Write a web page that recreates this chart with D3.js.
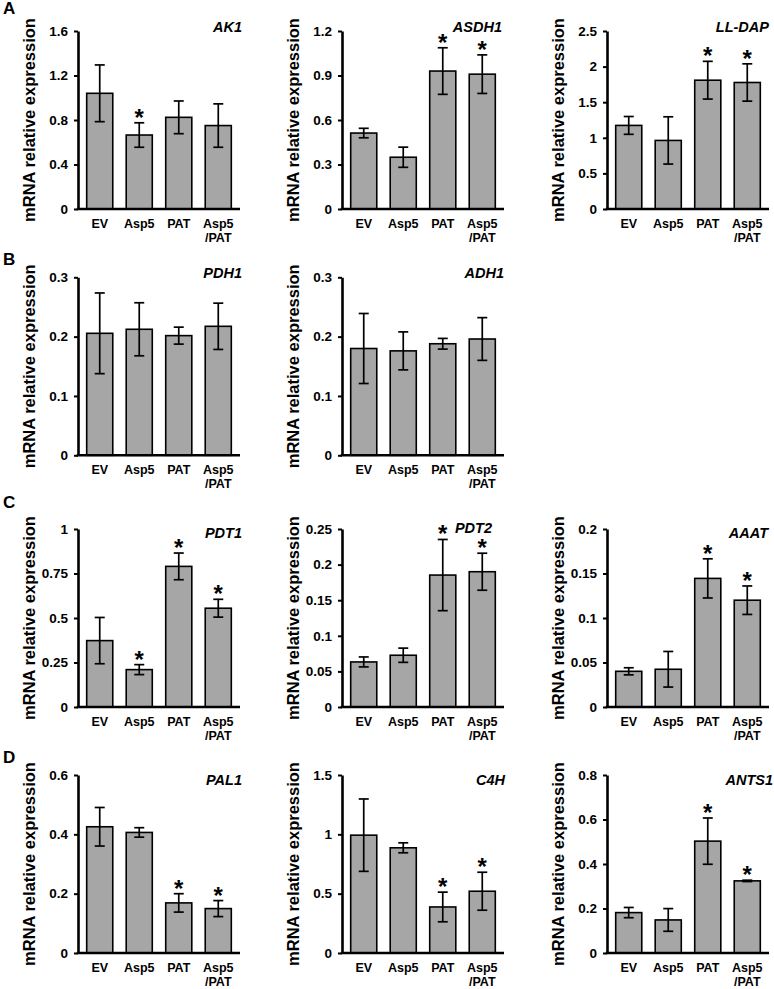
<!DOCTYPE html>
<html>
<head>
<meta charset="utf-8">
<script src="https://cdn.jsdelivr.net/npm/d3@7"></script>
<style>
  html, body { margin: 0; padding: 0; background: #fff; }
  svg { display: block; }
  text { font-family: "Liberation Sans", Arial, sans-serif; font-weight: bold; fill: #000; }
</style>
</head>
<body>
<svg id="chart" width="774" height="989"></svg>
<script>
// ---------------- DATA ----------------
const categories = ["EV", "Asp5", "PAT", "Asp5/PAT"];
const yTitle = "mRNA relative expression";
const panelLetters = ["A", "B", "C", "D"];

const genes = ["AK1", "ASDH1", "LL-DAP", "PDH1", "ADH1", "PDT1", "PDT2", "AAAT", "PAL1", "C4H", "ANTS1"];

const valuesAK1   = [1.04, 0.665, 0.824, 0.75];
const errorsAK1   = [0.255, 0.11, 0.147, 0.195];
const sigAK1      = [0, 1, 0, 0];
const ticksAK1    = ["0", "0.4", "0.8", "1.2", "1.6"];

const valuesASDH1 = [0.512, 0.349, 0.93, 0.909];
const errorsASDH1 = [0.032, 0.068, 0.157, 0.13];
const sigASDH1    = [0, 0, 1, 1];
const ticksASDH1  = ["0", "0.3", "0.6", "0.9", "1.2"];

const valuesLLDAP = [1.174, 0.963, 1.809, 1.777];
const errorsLLDAP = [0.125, 0.332, 0.265, 0.262];
const sigLLDAP    = [0, 0, 1, 1];
const ticksLLDAP  = ["0", "0.5", "1", "1.5", "2", "2.5"];

const valuesPDH1  = [0.2056, 0.2124, 0.2017, 0.2174];
const errorsPDH1  = [0.068, 0.0447, 0.0143, 0.039];
const sigPDH1     = [0, 0, 0, 0];
const ticksPDH1   = ["0", "0.1", "0.2", "0.3"];

const valuesADH1  = [0.180, 0.176, 0.188, 0.196];
const errorsADH1  = [0.059, 0.032, 0.009, 0.036];
const sigADH1     = [0, 0, 0, 0];
const ticksADH1   = ["0", "0.1", "0.2", "0.3"];

const valuesPDT1  = [0.373, 0.21, 0.79, 0.555];
const errorsPDT1  = [0.13, 0.028, 0.075, 0.05];
const sigPDT1     = [0, 1, 1, 1];
const ticksPDT1   = ["0", "0.25", "0.5", "0.75", "1"];

const valuesPDT2  = [0.0633, 0.0727, 0.1853, 0.19];
const errorsPDT2  = [0.007, 0.01, 0.05, 0.026];
const sigPDT2     = [0, 0, 1, 1];
const ticksPDT2   = ["0", "0.05", "0.1", "0.15", "0.2", "0.25"];

const valuesAAAT  = [0.0401, 0.0424, 0.1445, 0.12];
const errorsAAAT  = [0.004, 0.02, 0.022, 0.016];
const sigAAAT     = [0, 0, 1, 1];
const ticksAAAT   = ["0", "0.05", "0.1", "0.15", "0.2"];

const valuesPAL1  = [0.4255, 0.4064, 0.1689, 0.1497];
const errorsPAL1  = [0.065, 0.016, 0.031, 0.027];
const sigPAL1     = [0, 0, 1, 1];
const ticksPAL1   = ["0", "0.2", "0.4", "0.6"];

const valuesC4H   = [0.993, 0.8865, 0.388, 0.5206];
const errorsC4H   = [0.305, 0.042, 0.125, 0.16];
const sigC4H      = [0, 0, 1, 1];
const ticksC4H    = ["0", "0.5", "1", "1.5"];

const valuesANTS1 = [0.1816, 0.1486, 0.5028, 0.3242];
const errorsANTS1 = [0.023, 0.051, 0.104, 0.003];
const sigANTS1    = [0, 0, 1, 1];
const ticksANTS1  = ["0", "0.2", "0.4", "0.6", "0.8"];

const panelValues = [valuesAK1, valuesASDH1, valuesLLDAP, valuesPDH1, valuesADH1, valuesPDT1, valuesPDT2, valuesAAAT, valuesPAL1, valuesC4H, valuesANTS1];
const panelErrors = [errorsAK1, errorsASDH1, errorsLLDAP, errorsPDH1, errorsADH1, errorsPDT1, errorsPDT2, errorsAAAT, errorsPAL1, errorsC4H, errorsANTS1];
const panelSig    = [sigAK1, sigASDH1, sigLLDAP, sigPDH1, sigADH1, sigPDT1, sigPDT2, sigAAAT, sigPAL1, sigC4H, sigANTS1];
const panelTicks  = [ticksAK1, ticksASDH1, ticksLLDAP, ticksPDH1, ticksADH1, ticksPDT1, ticksPDT2, ticksAAAT, ticksPAL1, ticksC4H, ticksANTS1];

// ---------------- LAYOUT ----------------
const colX = [78, 342, 607];           // y-axis x position for each column
const rowTop = [31, 277.3, 529, 775];  // top of plot for each row
const plotW = 162, plotH = 178;
const panelGrid = [[0,0],[0,1],[0,2],[1,0],[1,1],[2,0],[2,1],[2,2],[3,0],[3,1],[3,2]]; // [row, col]
const titleDx = [2, -2, 0, 2, 0, 2, -12, -1, 2, 1, 4];
const titleDy = [1, 1, 1, 1, 1, 9, 4, 9, 10, 10, 10];
const letterPos = [[3, 14], [3, 265], [3, 508], [3, 763]];

const barFill = "#a6a6a6";

const svg = d3.select("#chart");

panelLetters.forEach((L, i) => {
  svg.append("text").attr("x", letterPos[i][0]).attr("y", letterPos[i][1])
    .style("font-size", "17px").text(L);
});

genes.forEach((gene, p) => {
  const [r, c] = panelGrid[p];
  const g = svg.append("g").attr("transform", `translate(${colX[c]},${rowTop[r]})`);
  const tickLabels = panelTicks[p];
  const tickVals = tickLabels.map(Number);
  const yMax = d3.max(tickVals);
  const y = d3.scaleLinear().domain([0, yMax]).range([plotH, 0]);
  const x = d3.scaleBand().domain(categories).range([0, plotW]).paddingInner(0.34).paddingOuter(0.22);
  const vals = panelValues[p], errs = panelErrors[p], sig = panelSig[p];
  const data = categories.map((cat, i) => ({cat, v: vals[i], e: errs[i], s: sig[i]}));

  // bars
  g.selectAll("rect.bar").data(data).join("rect").attr("class", "bar")
    .attr("x", d => x(d.cat)).attr("width", x.bandwidth())
    .attr("y", d => y(d.v)).attr("height", d => y(0) - y(d.v))
    .attr("fill", barFill).attr("stroke", "#000").attr("stroke-width", 1.6);

  // error bars
  const cap = 5;
  const eb = g.selectAll("g.err").data(data).join("g").attr("class", "err")
    .attr("stroke", "#000").attr("stroke-width", 1.7);
  eb.append("line").attr("x1", d => x(d.cat) + x.bandwidth()/2).attr("x2", d => x(d.cat) + x.bandwidth()/2)
    .attr("y1", d => y(d.v + d.e)).attr("y2", d => y(d.v - d.e));
  eb.append("line").attr("x1", d => x(d.cat) + x.bandwidth()/2 - cap).attr("x2", d => x(d.cat) + x.bandwidth()/2 + cap)
    .attr("y1", d => y(d.v + d.e)).attr("y2", d => y(d.v + d.e));
  eb.append("line").attr("x1", d => x(d.cat) + x.bandwidth()/2 - cap).attr("x2", d => x(d.cat) + x.bandwidth()/2 + cap)
    .attr("y1", d => y(d.v - d.e)).attr("y2", d => y(d.v - d.e));

  // significance stars
  g.selectAll("text.star").data(data.filter(d => d.s)).join("text").attr("class", "star")
    .attr("x", d => x(d.cat) + x.bandwidth()/2).attr("y", d => y(d.v + d.e) + 3)
    .attr("text-anchor", "middle").style("font-size", "24px").text("*");

  // y axis
  const yAxis = g.append("g").call(
    d3.axisLeft(y).tickValues(tickVals).tickFormat((d, i) => tickLabels[i]).tickSize(4).tickSizeOuter(0).tickPadding(6)
  );
  yAxis.select(".domain").attr("stroke-width", 2.6);
  yAxis.selectAll(".tick line").attr("stroke-width", 2);
  yAxis.selectAll(".tick text").style("font-size", "13.5px").style("font-family", '"Liberation Sans", Arial, sans-serif').style("font-weight", "bold");

  // x axis
  const xAxis = g.append("g").attr("transform", `translate(0,${plotH})`).call(
    d3.axisBottom(x).tickSize(0).tickSizeOuter(0).tickPadding(0)
  );
  xAxis.select(".domain").attr("stroke-width", 2.6).attr("d", `M-1.3,0H${plotW}`);
  xAxis.selectAll(".tick text").each(function(d) {
    const t = d3.select(this);
    t.text(null).attr("y", 0).attr("dy", null)
      .style("font-size", "12.5px").style("font-family", '"Liberation Sans", Arial, sans-serif').style("font-weight", "bold");
    const parts = d.split("/");
    t.append("tspan").attr("x", 0).attr("y", 19).text(parts[0]);
    if (parts.length > 1) t.append("tspan").attr("x", 0).attr("y", 33).text("/" + parts[1]);
  });

  // y title
  g.append("text").attr("transform", `translate(-49,${plotH/2}) rotate(-90)`)
    .attr("text-anchor", "middle").attr("dy", "0.35em").style("font-size", "16.5px").text(yTitle);

  // gene title
  g.append("text").attr("x", plotW + titleDx[p]).attr("y", titleDy[p])
    .attr("text-anchor", "end").style("font-size", "14.5px").style("font-style", "italic").text(gene);
});
</script>
</body>
</html>
